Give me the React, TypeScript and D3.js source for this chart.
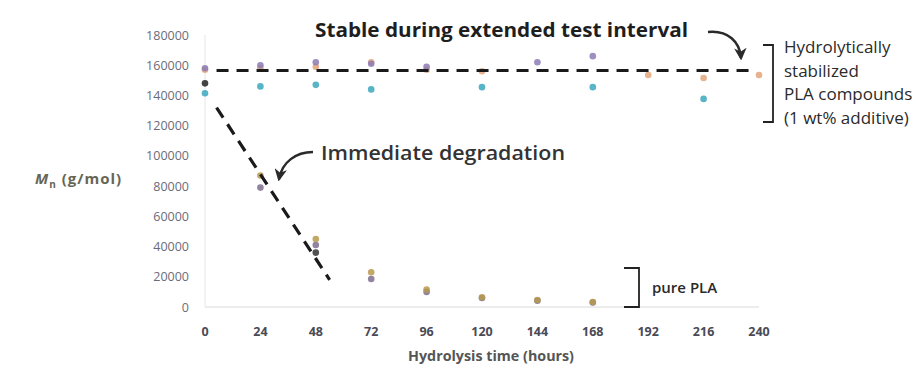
import React, { useRef, useEffect } from 'react'
import * as d3 from 'd3'

// hydrolysis time (hours)
const hours = [0, 24, 48, 72, 96, 120, 144, 168, 192, 216, 240]
const yTicks = [0, 20000, 40000, 60000, 80000, 100000, 120000, 140000, 160000, 180000]

// stabilized compounds, Mn (g/mol), null = no point
const stabPurple = [158000, 160000, 162000, 161000, 159000, null, 162000, 166000, null, null, null]
const stabOrange = [157000, 158000, 159000, 162000, 157000, 156000, null, null, 153500, 151500, 153500]
const stabTeal = [141500, 146000, 147000, 144000, null, 145500, null, 145500, null, 137700, null]
const stabBlack = [148000, null, null, null, null, null, null, null, null, null, null]

// pure PLA
const pureTan = [null, 87000, 45000, 23000, 11500, 6500, 4600, 3300, null, null, null]
const pureGray = [null, 79000, 41000, 18500, 10000, 6000, 4200, 3000, null, null, null]
const pureDark = [null, null, 36000, null, null, null, null, null, null, null, null]

// guide lines in data units
const stableGuide: [number, number][] = [[5, 156500], [238, 156500]]
const degradeGuide: [number, number][] = [[5, 132000], [54, 18000]]

const series = [
  { values: stabTeal, color: '#3ba7bd' },
  { values: stabOrange, color: '#e3a57a' },
  { values: stabPurple, color: '#8c7bb5' },
  { values: stabBlack, color: '#222222' },
  { values: pureDark, color: '#333333' },
  { values: pureGray, color: '#7c6f8e' },
  { values: pureTan, color: '#b79a4e' },
]

function App() {
  const ref = useRef<SVGSVGElement>(null)

  useEffect(() => {
    const width = 922
    const height = 366
    const svg = d3.select(ref.current)
    svg.selectAll('*').remove()
    svg.attr('width', width).attr('height', height)

    const x = d3.scaleLinear().domain([0, 240]).range([205, 759])
    const y = d3.scaleLinear().domain([0, 180000]).range([307, 35])

    const defs = svg.append('defs')
    defs.append('marker')
      .attr('id', 'head')
      .attr('viewBox', '0 0 10 10')
      .attr('refX', 8).attr('refY', 5)
      .attr('markerWidth', 5).attr('markerHeight', 5)
      .attr('orient', 'auto')
      .append('path')
      .attr('d', 'M0,0 L10,5 L0,10 L3,5 Z')
      .attr('fill', '#2a2a2a')

    // axes (light)
    svg.append('line')
      .attr('x1', x(0)).attr('x2', x(240))
      .attr('y1', y(0)).attr('y2', y(0))
      .attr('stroke', '#d9d9d9').attr('stroke-width', 1)
    svg.append('line')
      .attr('x1', x(0)).attr('x2', x(0))
      .attr('y1', y(0)).attr('y2', y(180000))
      .attr('stroke', '#e6e6e6').attr('stroke-width', 1)

    svg.selectAll('.ytick')
      .data(yTicks)
      .enter()
      .append('text')
      .attr('x', 189)
      .attr('y', d => y(d) + 4.5)
      .attr('text-anchor', 'end')
      .attr('font-family', 'Open Sans')
      .attr('font-size', 12.5)
      .attr('fill', '#6b6b7a')
      .text(d => String(d))

    svg.selectAll('.xtick')
      .data(hours)
      .enter()
      .append('text')
      .attr('x', d => x(d))
      .attr('y', 336)
      .attr('text-anchor', 'middle')
      .attr('font-family', 'Open Sans')
      .attr('font-size', 12.5)
      .attr('font-weight', 'bold')
      .attr('fill', '#4a4a55')
      .text(d => String(d))

    svg.append('text')
      .attr('x', 491).attr('y', 361)
      .attr('text-anchor', 'middle')
      .attr('font-family', 'Open Sans')
      .attr('font-size', 14.3)
      .attr('font-weight', 'bold')
      .attr('fill', '#555555')
      .text('Hydrolysis time (hours)')

    const yl = svg.append('text')
      .attr('x', 35).attr('y', 184)
      .attr('font-family', 'Open Sans')
      .attr('font-size', 15)
      .attr('font-weight', 'bold')
      .attr('letter-spacing', 1)
      .attr('fill', '#666655')
    yl.append('tspan').attr('font-style', 'italic').text('M')
    yl.append('tspan').attr('font-size', 10).attr('dy', 4).text('n')
    yl.append('tspan').attr('dy', -4).text(' (g/mol)')

    // points
    series.forEach(s => {
      svg.append('g')
        .selectAll('circle')
        .data(hours.map((h, i) => ({ h, v: s.values[i] })).filter(d => d.v != null))
        .enter()
        .append('circle')
        .attr('cx', d => x(d.h))
        .attr('cy', d => y(d.v as number))
        .attr('r', 3.3)
        .attr('fill', s.color)
        .attr('opacity', 0.85)
    })

    // dashed guides
    const line = d3.line<[number, number]>().x(d => x(d[0])).y(d => y(d[1]))
    svg.append('path')
      .attr('d', line(stableGuide))
      .attr('fill', 'none')
      .attr('stroke', '#1a1a1a')
      .attr('stroke-width', 3.2)
      .attr('stroke-dasharray', '12 8')
    svg.append('path')
      .attr('d', line(degradeGuide))
      .attr('fill', 'none')
      .attr('stroke', '#1a1a1a')
      .attr('stroke-width', 3.2)
      .attr('stroke-dasharray', '12 8')

    // annotations
    svg.append('text')
      .attr('x', 315).attr('y', 37)
      .attr('font-family', 'Open Sans')
      .attr('font-size', 20)
      .attr('font-weight', 'bold')
      .attr('fill', '#1e1e1e')
      .attr('textLength', 373)
      .attr('lengthAdjust', 'spacingAndGlyphs')
      .text('Stable during extended test interval')

    svg.append('path')
      .attr('d', 'M708,32 C728,30 740,42 741,58')
      .attr('fill', 'none')
      .attr('stroke', '#2a2a2a')
      .attr('stroke-width', 2.5)
      .attr('marker-end', 'url(#head)')

    svg.append('text')
      .attr('x', 321).attr('y', 160)
      .attr('font-family', 'Open Sans')
      .attr('font-size', 19)
      .attr('font-weight', 600)
      .attr('fill', '#333333')
      .attr('textLength', 244)
      .attr('lengthAdjust', 'spacingAndGlyphs')
      .text('Immediate degradation')

    svg.append('path')
      .attr('d', 'M313,152 C296,152 282,162 279,179')
      .attr('fill', 'none')
      .attr('stroke', '#2a2a2a')
      .attr('stroke-width', 2.5)
      .attr('marker-end', 'url(#head)')

    // bracket for stabilized compounds
    svg.append('path')
      .attr('d', 'M763,45 L773,45 L773,122 L763,122')
      .attr('fill', 'none')
      .attr('stroke', '#222222')
      .attr('stroke-width', 1.8)

    const stabLines = ['Hydrolytically', 'stabilized', 'PLA compounds', '(1 wt% additive)']
    svg.selectAll('.stab')
      .data(stabLines)
      .enter()
      .append('text')
      .attr('x', 784)
      .attr('y', (d, i) => 53 + i * 23.5)
      .attr('font-family', 'Open Sans')
      .attr('font-size', 17)
      .attr('fill', '#2a2a2a')
      .text(d => d)

    // bracket for pure PLA
    svg.append('path')
      .attr('d', 'M624,268 L639,268 L639,307 L624,307')
      .attr('fill', 'none')
      .attr('stroke', '#222222')
      .attr('stroke-width', 1.8)

    svg.append('text')
      .attr('x', 652).attr('y', 293)
      .attr('font-family', 'Open Sans')
      .attr('font-size', 15)
      .attr('font-weight', 600)
      .attr('fill', '#2a2a2a')
      .text('pure PLA')
  }, [])

  return (
    <svg ref={ref} style={{ position: 'absolute', left: 0, top: 0, background: '#fff' }}></svg>
  )
}

export default App
